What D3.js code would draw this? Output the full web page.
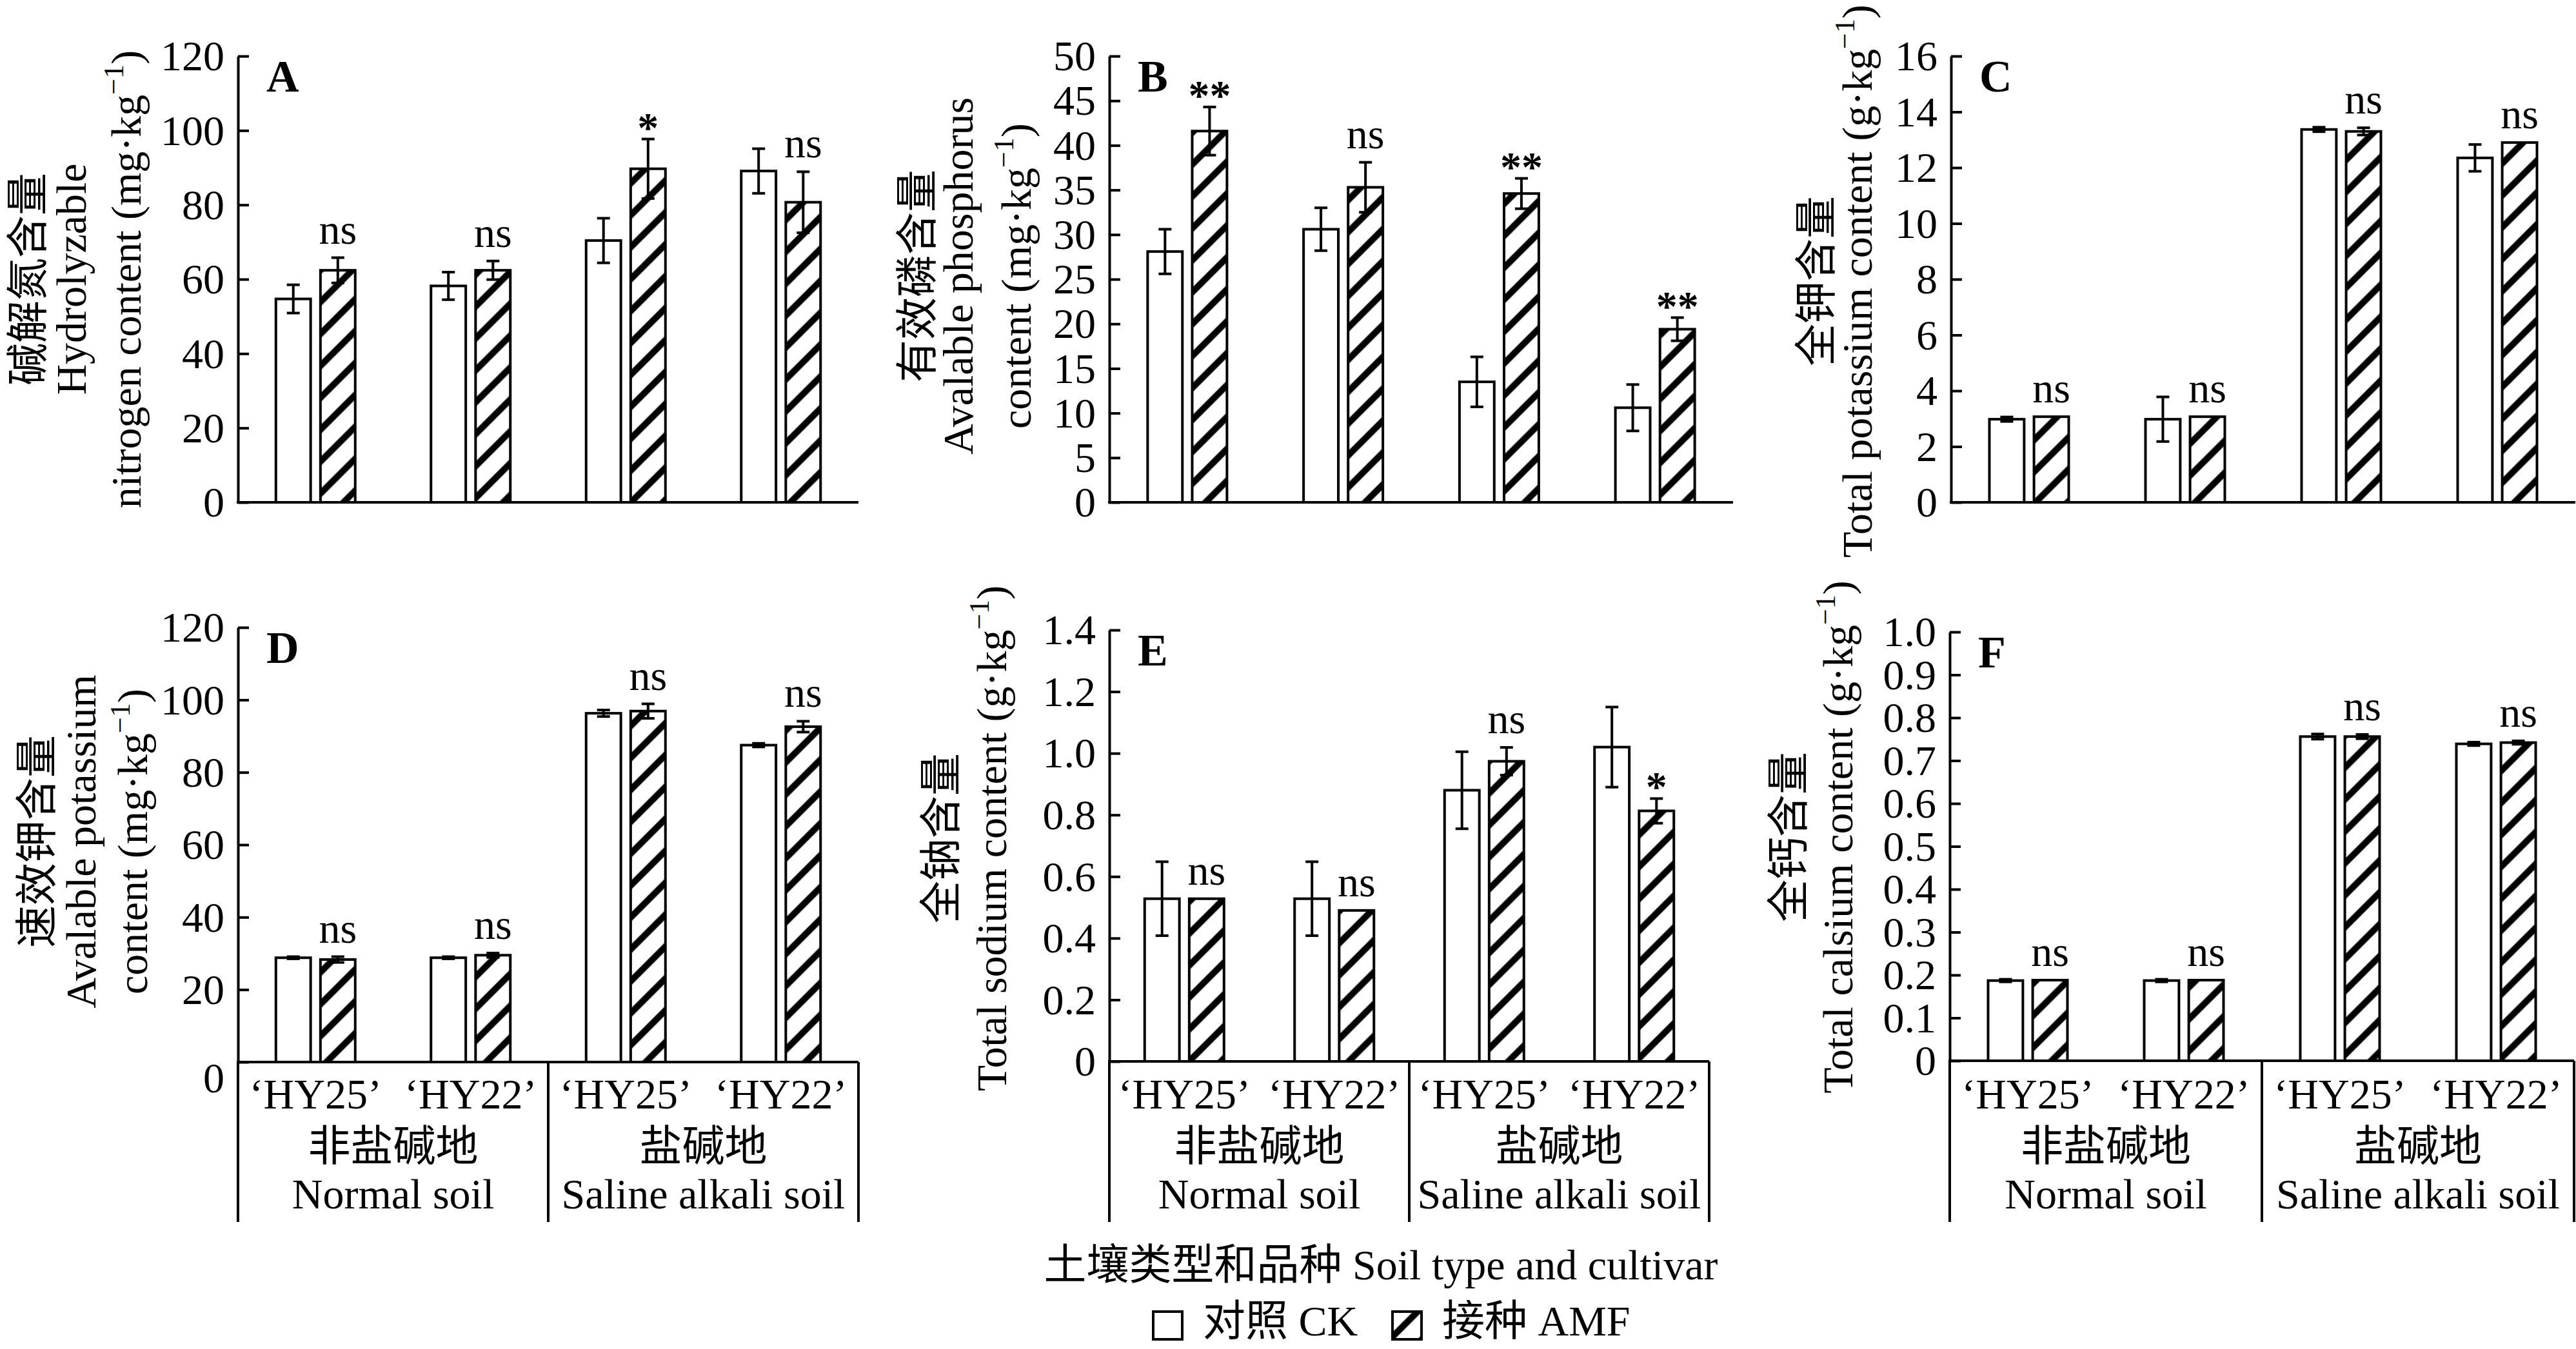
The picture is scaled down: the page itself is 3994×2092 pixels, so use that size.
<!DOCTYPE html>
<html>
<head>
<meta charset="utf-8">
<script src="https://cdn.jsdelivr.net/npm/d3@7"></script>
<style>
  body { margin: 0; background: #fff; }
  svg text { font-family: "Liberation Serif", "Times New Roman", "Noto Sans CJK SC", serif; fill: #000; }
</style>
</head>
<body>
<svg id="chart"></svg>
<script>
const width = 3994;
const height = 2092;

// categories
const cultivars = ["‘HY25’", "‘HY22’", "‘HY25’", "‘HY22’"];
const soilCn = ["非盐碱地", "盐碱地"];
const soilEn = ["Normal soil", "Saline alkali soil"];
const treatments = ["CK", "AMF"];

// A  hydrolyzable nitrogen
const nitrogenCK = [54.7, 58.2, 70.4, 89.1];
const nitrogenCKErr = [3.8, 3.7, 6.0, 6.0];
const nitrogenAMF = [62.4, 62.4, 89.7, 80.7];
const nitrogenAMFErr = [3.4, 2.5, 8.0, 8.2];
const nitrogenSig = ["ns", "ns", "*", "ns"];
const nitrogenTicks = [0, 20, 40, 60, 80, 100, 120];
const nitrogenTitle = ["碱解氮含量", "Hydrolyzable", "nitrogen content (mg·kg^{−1})"];

// B  available phosphorus
const phosCK = [28.1, 30.6, 13.5, 10.6];
const phosCKErr = [2.5, 2.4, 2.8, 2.6];
const phosAMF = [41.6, 35.3, 34.6, 19.4];
const phosAMFErr = [2.7, 2.8, 1.7, 1.3];
const phosSig = ["**", "ns", "**", "**"];
const phosTicks = [0, 5, 10, 15, 20, 25, 30, 35, 40, 45, 50];
const phosTitle = ["有效磷含量", "Avalable phosphorus", "content (mg·kg^{−1})"];

// C  total potassium
const totKCK = [2.98, 2.98, 13.37, 12.35];
const totKCKErr = [0.08, 0.8, 0.08, 0.48];
const totKAMF = [3.07, 3.07, 13.3, 12.9];
const totKAMFErr = [0, 0, 0.13, 0];
const totKSig = ["ns", "ns", "ns", "ns"];
const totKTicks = [0, 2, 4, 6, 8, 10, 12, 14, 16];
const totKTitle = ["全钾含量", "Total potassium content (g·kg^{−1})"];

// D  available potassium
const avKCK = [28.8, 28.8, 96.3, 87.5];
const avKCKErr = [0.3, 0.3, 0.9, 0.5];
const avKAMF = [28.3, 29.5, 96.9, 92.6];
const avKAMFErr = [0.8, 0.6, 2.0, 1.5];
const avKSig = ["ns", "ns", "ns", "ns"];
const avKTicks = [0, 20, 40, 60, 80, 100, 120];
const avKTitle = ["速效钾含量", "Avalable potassium", "content (mg·kg^{−1})"];

// E  total sodium
const naCK = [0.528, 0.528, 0.88, 1.02];
const naCKErr = [0.12, 0.12, 0.125, 0.13];
const naAMF = [0.528, 0.49, 0.974, 0.813];
const naAMFErr = [0, 0, 0.045, 0.04];
const naSig = ["ns", "ns", "ns", "*"];
const naTicks = [0, 0.2, 0.4, 0.6, 0.8, 1.0, 1.2, 1.4];
const naTitle = ["全钠含量", "Total sodium content (g·kg^{−1})"];

// F  total calcium
const caCK = [0.187, 0.187, 0.756, 0.739];
const caCKErr = [0.003, 0.003, 0.006, 0.004];
const caAMF = [0.188, 0.188, 0.756, 0.742];
const caAMFErr = [0, 0, 0.005, 0.004];
const caSig = ["ns", "ns", "ns", "ns"];
const caTicks = [0, 0.1, 0.2, 0.3, 0.4, 0.5, 0.6, 0.7, 0.8, 0.9, 1.0];
const caTitle = ["全钙含量", "Total calsium content (g·kg^{−1})"];

const xTitle = "土壤类型和品种 Soil type and cultivar";
const legendLabels = ["对照 CK", "接种 AMF"];

// panel table
const panels = [
  {letter: "A", ck: nitrogenCK, ckErr: nitrogenCKErr, amf: nitrogenAMF, amfErr: nitrogenAMFErr, sig: nitrogenSig, ticks: nitrogenTicks, title: nitrogenTitle},
  {letter: "B", ck: phosCK, ckErr: phosCKErr, amf: phosAMF, amfErr: phosAMFErr, sig: phosSig, ticks: phosTicks, title: phosTitle},
  {letter: "C", ck: totKCK, ckErr: totKCKErr, amf: totKAMF, amfErr: totKAMFErr, sig: totKSig, ticks: totKTicks, title: totKTitle},
  {letter: "D", ck: avKCK, ckErr: avKCKErr, amf: avKAMF, amfErr: avKAMFErr, sig: avKSig, ticks: avKTicks, title: avKTitle},
  {letter: "E", ck: naCK, ckErr: naCKErr, amf: naAMF, amfErr: naAMFErr, sig: naSig, ticks: naTicks, title: naTitle},
  {letter: "F", ck: caCK, ckErr: caCKErr, amf: caAMF, amfErr: caAMFErr, sig: caSig, ticks: caTicks, title: caTitle}
];

// where each panel sits
const layout = [
  {x0: 369, x1: 1331, y0: 87, y1: 779, titleX: [66, 133, 218], titleY: 433},
  {x0: 1720, x1: 2687, y0: 87, y1: 779, titleX: [1445, 1508, 1598], titleY: 428},
  {x0: 3025, x1: 3993, y0: 87, y1: 779, titleX: [2839, 2902], titleY: 436},
  {x0: 369, x1: 1331, y0: 973, y1: 1647, titleX: [80, 148, 228], titleY: 1305, zeroShift: 25, bottom: true},
  {x0: 1720, x1: 2650, y0: 977, y1: 1646, titleX: [1482, 1560], titleY: 1300, bottom: true},
  {x0: 3023, x1: 3991, y0: 980, y1: 1645, titleX: [2796, 2872], titleY: 1298, bottom: true}
];

const svg = d3.select("#chart")
    .attr("width", width)
    .attr("height", height)
    .attr("viewBox", `0 0 ${width} ${height}`);

svg.append("rect").attr("width", width).attr("height", height).attr("fill", "#fff");

// diagonal hatch
const defs = svg.append("defs");
const pat = defs.append("pattern")
    .attr("id", "hatch")
    .attr("patternUnits", "userSpaceOnUse")
    .attr("width", 35)
    .attr("height", 35)
    .attr("patternTransform", "rotate(45)");
pat.append("rect").attr("width", 35).attr("height", 35).attr("fill", "#fff");
pat.append("line")
    .attr("x1", 17.5).attr("y1", -5).attr("x2", 17.5).attr("y2", 40)
    .attr("stroke", "#000").attr("stroke-width", 10);

const fontSize = 66;
const sw = 4;

function addTitleLine(g, str, x, y) {
    const parts = str.split(/\^\{|\}/);
    const t = g.append("text")
        .attr("transform", `translate(${x},${y}) rotate(-90)`)
        .attr("text-anchor", "middle")
        .attr("font-size", fontSize);
    t.append("tspan").text(parts[0]);
    if (parts.length > 1) {
        t.append("tspan").attr("font-size", 44).attr("dy", -27).text(parts[1]);
        t.append("tspan").attr("dy", 27).text(parts[2]);
    }
}

panels.forEach((p, i) => {
    const L = layout[i];
    const g = svg.append("g");

    const x = d3.scaleBand().domain(d3.range(4)).range([L.x0, L.x1]);
    const xs = d3.scaleBand().domain(treatments).range([-61.5, 61.5]).paddingInner(0.22);
    const y = d3.scaleLinear().domain([0, d3.max(p.ticks)]).range([L.y1, L.y0]);
    const fmt = p.ticks.some(v => v % 1 !== 0) ? (v => v === 0 ? "0" : d3.format(".1f")(v)) : d3.format("d");

    // bars
    const rows = [];
    p.ck.forEach((v, j) => {
        rows.push({grp: j, tr: "CK", v: v, e: p.ckErr[j]});
        rows.push({grp: j, tr: "AMF", v: p.amf[j], e: p.amfErr[j]});
    });
    const cx = d => x(d.grp) + x.bandwidth() / 2 + xs(d.tr);

    g.selectAll(".bar").data(rows).enter().append("rect")
        .attr("x", d => cx(d))
        .attr("y", d => y(d.v))
        .attr("width", xs.bandwidth())
        .attr("height", d => y(0) - y(d.v))
        .attr("fill", d => d.tr === "CK" ? "#fff" : "url(#hatch)")
        .attr("stroke", "#000")
        .attr("stroke-width", sw);

    // error bars
    const eb = g.selectAll(".err").data(rows.filter(d => d.e > 0)).enter().append("g")
        .attr("stroke", "#000").attr("stroke-width", sw);
    const mid = d => cx(d) + xs.bandwidth() / 2;
    eb.append("line")
        .attr("x1", mid).attr("x2", mid)
        .attr("y1", d => y(d.v + d.e)).attr("y2", d => y(d.v - d.e));
    eb.append("line")
        .attr("x1", d => mid(d) - 10).attr("x2", d => mid(d) + 10)
        .attr("y1", d => y(d.v + d.e)).attr("y2", d => y(d.v + d.e));
    eb.append("line")
        .attr("x1", d => mid(d) - 10).attr("x2", d => mid(d) + 10)
        .attr("y1", d => y(d.v - d.e)).attr("y2", d => y(d.v - d.e));

    // significance marks above AMF bars
    g.selectAll(".sig").data(rows.filter(d => d.tr === "AMF")).enter().append("text")
        .attr("x", mid)
        .attr("y", d => {
            const top = y(d.v + d.e);
            return p.sig[d.grp] === "ns" ? top - 22 : top + 4;
        })
        .attr("text-anchor", "middle")
        .attr("font-size", fontSize)
        .attr("font-weight", d => p.sig[d.grp] === "ns" ? "normal" : "bold")
        .text(d => p.sig[d.grp]);

    // y axis, ticks pointing inward
    const ax = g.append("g")
        .attr("transform", `translate(${L.x0},0)`)
        .call(d3.axisLeft(y).tickValues(p.ticks).tickFormat(fmt).tickSize(-17).tickSizeOuter(0).tickPadding(21));
    ax.select(".domain").attr("stroke-width", sw);
    ax.selectAll(".tick line").attr("stroke-width", sw);
    ax.selectAll(".tick text")
        .attr("font-size", fontSize)
        .attr("font-family", "Liberation Serif, serif")
        .attr("dy", "0.33em");
    if (L.zeroShift) {
        ax.selectAll(".tick text").filter(d => d === 0).attr("dy", `${0.33 * fontSize + L.zeroShift}px`);
    }

    // x axis line
    g.append("line")
        .attr("x1", L.x0 - 2).attr("x2", L.x1)
        .attr("y1", y(0)).attr("y2", y(0))
        .attr("stroke", "#000").attr("stroke-width", sw);

    // panel letter
    g.append("text")
        .attr("x", L.x0 + 44)
        .attr("y", L.y0 + 55)
        .attr("font-size", 70)
        .attr("font-weight", "bold")
        .text(p.letter);

    // y titles
    p.title.forEach((s, k) => addTitleLine(g, s, L.titleX[k], L.titleY));

    // category axis below the bottom row
    if (L.bottom) {
        const yb = 1895;
        const midX = x(2);
        [L.x0, midX, L.x1].forEach(xx => {
            g.append("line")
                .attr("x1", xx).attr("x2", xx)
                .attr("y1", y(0)).attr("y2", yb)
                .attr("stroke", "#000").attr("stroke-width", sw);
        });
        g.selectAll(".cult").data(cultivars).enter().append("text")
            .attr("x", (d, j) => x(j) + x.bandwidth() / 2)
            .attr("y", 1719)
            .attr("text-anchor", "middle")
            .attr("font-size", fontSize)
            .text(d => d);
        soilCn.forEach((s, k) => {
            const c = x(k * 2) + x.bandwidth();
            g.append("text").attr("x", c).attr("y", 1800)
                .attr("text-anchor", "middle").attr("font-size", fontSize).text(s);
            g.append("text").attr("x", c).attr("y", 1874)
                .attr("text-anchor", "middle").attr("font-size", fontSize).text(soilEn[k]);
        });
    }
});

// shared x title
svg.append("text")
    .attr("x", 2141)
    .attr("y", 1984)
    .attr("text-anchor", "middle")
    .attr("font-size", fontSize)
    .text(xTitle);

// legend
const legendX = [1788, 2159];
legendLabels.forEach((lab, k) => {
    svg.append("rect")
        .attr("x", legendX[k]).attr("y", 2034)
        .attr("width", 45).attr("height", 43)
        .attr("fill", k === 0 ? "#fff" : "url(#hatch)")
        .attr("stroke", "#000").attr("stroke-width", sw);
    svg.append("text")
        .attr("x", legendX[k] + 77).attr("y", 2071)
        .attr("font-size", fontSize)
        .text(lab);
});
</script>
</body>
</html>
